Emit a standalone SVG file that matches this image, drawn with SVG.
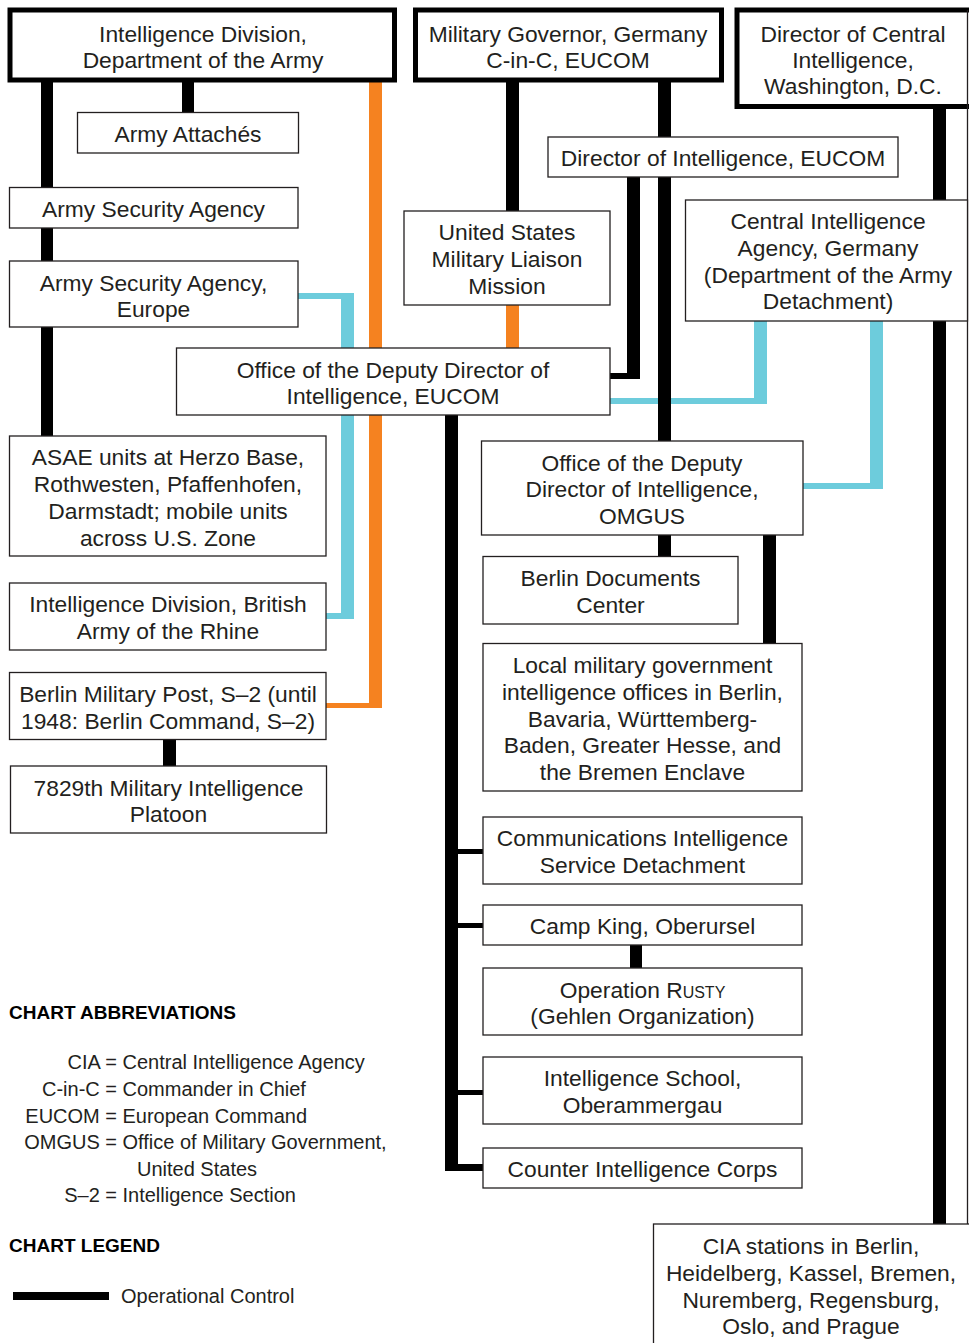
<svg xmlns="http://www.w3.org/2000/svg" width="969" height="1343" viewBox="0 0 969 1343">
<style>
.bg{fill:#fff}
.n{fill:#fff;stroke:#231f20;stroke-width:1.3}
.nk{fill:#fff;stroke:#000;stroke-width:5}
.t{font-family:"Liberation Sans",Arial,sans-serif;font-size:22.8px;fill:#231f20;text-anchor:middle}
.k{fill:#000}
.c{fill:#6dccdc}
.o{fill:#f58220}
.edge{stroke:#231f20;stroke-width:1.3;fill:none}
.h{font-family:"Liberation Sans",Arial,sans-serif;font-size:19px;font-weight:bold;fill:#000}
.a{font-family:"Liberation Sans",Arial,sans-serif;font-size:20px;fill:#231f20}
.ae{font-family:"Liberation Sans",Arial,sans-serif;font-size:20px;fill:#231f20;text-anchor:end}
</style>
<rect class="bg" x="0" y="0" width="969" height="1343"/>
<g id="connectors">
  <rect class="c" x="298" y="293" width="56" height="6"/>
  <rect class="c" x="341" y="293" width="13" height="326"/>
  <rect class="c" x="326" y="613" width="28" height="6"/>
  <rect class="c" x="610" y="398" width="157" height="6"/>
  <rect class="c" x="754" y="321" width="13" height="83"/>
  <rect class="c" x="803" y="483" width="80" height="6"/>
  <rect class="c" x="870" y="321" width="13" height="168"/>
  <rect class="o" x="369" y="82" width="13" height="626"/>
  <rect class="o" x="326" y="703" width="56" height="5"/>
  <rect class="o" x="506" y="305" width="13" height="43"/>
  <rect class="k" x="41" y="82" width="12" height="354"/>
  <rect class="k" x="182" y="82" width="12" height="30"/>
  <rect class="k" x="506" y="82" width="13" height="129"/>
  <rect class="k" x="658" y="82" width="13" height="359"/>
  <rect class="k" x="627" y="177" width="13" height="202"/>
  <rect class="k" x="610" y="373" width="30" height="6"/>
  <rect class="k" x="933" y="108" width="13" height="1116"/>
  <rect class="k" x="445" y="415" width="13" height="756"/>
  <rect class="k" x="445" y="1164" width="38" height="7"/>
  <rect class="k" x="458" y="849" width="25" height="5"/>
  <rect class="k" x="458" y="923" width="25" height="5"/>
  <rect class="k" x="458" y="1090" width="25" height="5"/>
  <rect class="k" x="658" y="535" width="13" height="21"/>
  <rect class="k" x="763" y="535" width="13" height="108"/>
  <rect class="k" x="630" y="945" width="12" height="23"/>
  <rect class="k" x="163" y="740" width="13" height="26"/>
</g>
<g id="intel-division">
  <rect class="nk" x="10" y="10" width="384.5" height="70"/>
  <text class="t" x="203" y="41.5">Intelligence Division,</text>
  <text class="t" x="203" y="67.5">Department of the Army</text>
</g>
<g id="military-governor">
  <rect class="nk" x="415.5" y="10" width="306" height="70"/>
  <text class="t" x="568" y="41.5">Military Governor, Germany</text>
  <text class="t" x="568" y="67.5">C-in-C, EUCOM</text>
</g>
<g id="dci">
  <rect class="nk" x="737" y="10" width="245" height="96.5"/>
  <line class="edge" x1="967.5" y1="10" x2="967.5" y2="1224"/>
  <text class="t" x="853" y="41.5">Director of Central</text>
  <text class="t" x="853" y="67.5">Intelligence,</text>
  <text class="t" x="853" y="94">Washington, D.C.</text>
</g>
<g id="army-attaches">
  <rect class="n" x="77.5" y="112.5" width="221" height="40.5"/>
  <text class="t" x="188" y="142">Army Attachés</text>
</g>
<g id="asa">
  <rect class="n" x="9.5" y="187.5" width="288.5" height="40.5"/>
  <text class="t" x="153.5" y="217">Army Security Agency</text>
</g>
<g id="asa-europe">
  <rect class="n" x="9.5" y="261" width="288.5" height="66"/>
  <text class="t" x="153.5" y="291">Army Security Agency,</text>
  <text class="t" x="153.5" y="316.5">Europe</text>
</g>
<g id="oddi-eucom">
  <rect class="n" x="176.5" y="348" width="433.5" height="67"/>
  <text class="t" x="393" y="378">Office of the Deputy Director of</text>
  <text class="t" x="393" y="404">Intelligence, EUCOM</text>
</g>
<g id="asae-units">
  <rect class="n" x="9.5" y="436" width="316.5" height="120"/>
  <text class="t" x="168" y="465">ASAE units at Herzo Base,</text>
  <text class="t" x="168" y="492">Rothwesten, Pfaffenhofen,</text>
  <text class="t" x="168" y="519">Darmstadt; mobile units</text>
  <text class="t" x="168" y="545.5">across U.S. Zone</text>
</g>
<g id="intel-div-british">
  <rect class="n" x="9.5" y="583" width="316.5" height="67"/>
  <text class="t" x="168" y="612">Intelligence Division, British</text>
  <text class="t" x="168" y="639">Army of the Rhine</text>
</g>
<g id="berlin-military-post">
  <rect class="n" x="9.5" y="672.5" width="316.5" height="67"/>
  <text class="t" x="168" y="702">Berlin Military Post, S–2 (until</text>
  <text class="t" x="168" y="729">1948: Berlin Command, S–2)</text>
</g>
<g id="mi-platoon">
  <rect class="n" x="10.5" y="766" width="316" height="67"/>
  <text class="t" x="168.5" y="796">7829th Military Intelligence</text>
  <text class="t" x="168.5" y="822">Platoon</text>
</g>
<g id="usmlm">
  <rect class="n" x="404" y="211" width="206" height="94"/>
  <text class="t" x="507" y="240">United States</text>
  <text class="t" x="507" y="267">Military Liaison</text>
  <text class="t" x="507" y="294">Mission</text>
</g>
<g id="dir-intel-eucom">
  <rect class="n" x="548" y="137" width="350" height="40"/>
  <text class="t" x="723" y="166">Director of Intelligence, EUCOM</text>
</g>
<g id="cia-germany">
  <rect class="n" x="685.5" y="200" width="282" height="121"/>
  <text class="t" x="828" y="229">Central Intelligence</text>
  <text class="t" x="828" y="256">Agency, Germany</text>
  <text class="t" x="828" y="283">(Department of the Army</text>
  <text class="t" x="828" y="309">Detachment)</text>
</g>
<g id="oddi-omgus">
  <rect class="n" x="481.5" y="441" width="321.5" height="94"/>
  <text class="t" x="642" y="471">Office of the Deputy</text>
  <text class="t" x="642" y="497">Director of Intelligence,</text>
  <text class="t" x="642" y="524">OMGUS</text>
</g>
<g id="berlin-documents">
  <rect class="n" x="483" y="556.5" width="255" height="67.5"/>
  <text class="t" x="610.5" y="586">Berlin Documents</text>
  <text class="t" x="610.5" y="613">Center</text>
</g>
<g id="local-mil-gov">
  <rect class="n" x="483" y="643.5" width="319" height="147.5"/>
  <text class="t" x="642.5" y="673">Local military government</text>
  <text class="t" x="642.5" y="700">intelligence offices in Berlin,</text>
  <text class="t" x="642.5" y="727">Bavaria, Württemberg-</text>
  <text class="t" x="642.5" y="753">Baden, Greater Hesse, and</text>
  <text class="t" x="642.5" y="780">the Bremen Enclave</text>
</g>
<g id="comms-intel">
  <rect class="n" x="483" y="817" width="319" height="67"/>
  <text class="t" x="642.5" y="846">Communications Intelligence</text>
  <text class="t" x="642.5" y="873">Service Detachment</text>
</g>
<g id="camp-king">
  <rect class="n" x="483" y="905" width="319" height="40"/>
  <text class="t" x="642.5" y="934">Camp King, Oberursel</text>
</g>
<g id="operation-rusty">
  <rect class="n" x="483" y="968" width="319" height="67"/>
  <text class="t" x="642.5" y="998">Operation R<tspan font-size="16">USTY</tspan></text>
  <text class="t" x="642.5" y="1024">(Gehlen Organization)</text>
</g>
<g id="intel-school">
  <rect class="n" x="483" y="1057" width="319" height="67"/>
  <text class="t" x="642.5" y="1086">Intelligence School,</text>
  <text class="t" x="642.5" y="1113">Oberammergau</text>
</g>
<g id="cic">
  <rect class="n" x="483" y="1148" width="319" height="40"/>
  <text class="t" x="642.5" y="1177">Counter Intelligence Corps</text>
</g>
<g id="cia-stations">
  <rect class="n" x="653.5" y="1224" width="330" height="130"/>
  <text class="t" x="811" y="1254">CIA stations in Berlin,</text>
  <text class="t" x="811" y="1281">Heidelberg, Kassel, Bremen,</text>
  <text class="t" x="811" y="1308">Nuremberg, Regensburg,</text>
  <text class="t" x="811" y="1334">Oslo, and Prague</text>
</g>
<g id="abbreviations">
  <text class="h" x="9" y="1019">CHART ABBREVIATIONS</text>
  <text class="ae" x="117" y="1069">CIA =</text>
  <text class="a" x="122.5" y="1069">Central Intelligence Agency</text>
  <text class="ae" x="117" y="1096">C-in-C =</text>
  <text class="a" x="122.5" y="1096">Commander in Chief</text>
  <text class="ae" x="117" y="1123">EUCOM =</text>
  <text class="a" x="122.5" y="1123">European Command</text>
  <text class="ae" x="117" y="1149">OMGUS =</text>
  <text class="a" x="122.5" y="1149">Office of Military Government,</text>
  <text class="a" x="137" y="1176">United States</text>
  <text class="ae" x="117" y="1202">S–2 =</text>
  <text class="a" x="122.5" y="1202">Intelligence Section</text>
</g>
<g id="legend">
  <text class="h" x="9" y="1252">CHART LEGEND</text>
  <rect class="k" x="13" y="1292" width="96" height="8"/>
  <text class="a" x="121" y="1303">Operational Control</text>
</g>
</svg>
